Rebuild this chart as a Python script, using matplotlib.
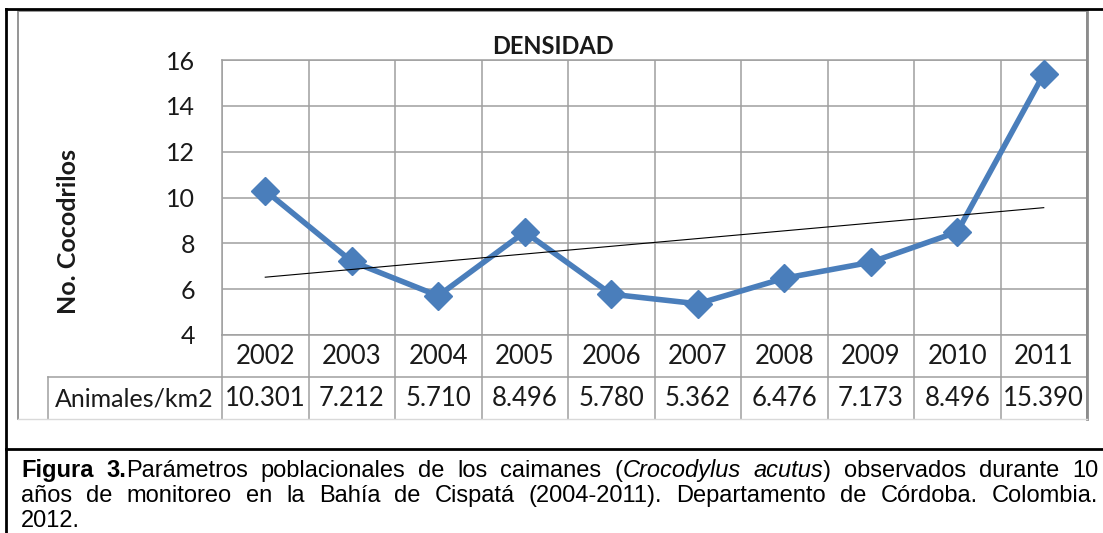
import numpy as np
import matplotlib.pyplot as plt
from matplotlib.lines import Line2D
from matplotlib.transforms import blended_transform_factory

W, H = 1103, 533

YEARS = ["2002", "2003", "2004", "2005", "2006", "2007", "2008", "2009", "2010", "2011"]
DENSITY = [10.301, 7.212, 5.710, 8.496, 5.780, 5.362, 6.476, 7.173, 8.496, 15.390]
Y_TICKS = [4, 6, 8, 10, 12, 14, 16]
ROW_LABEL = "Animales/km2"
TITLE = "DENSIDAD"
Y_LABEL = "No. Cocodrilos"
CAPTION = [
    [("Figura 3.", "bold"), ("Parámetros poblacionales de los caimanes (", "normal"),
     ("Crocodylus acutus", "italic"), (") observados durante 10", "normal")],
    [("años de monitoreo en la Bahía de Cispatá (2004-2011). Departamento de Córdoba. Colombia.", "normal")],
    [("2012.", "normal")],
]

BLUE = "#4A7EBB"
GRID = "#9f9f9f"
CHART_FONT = "Lato"
CAP_FONT = "Liberation Sans"
TXT = "#1a1a1a"


def fx(x):
    return x / W


def fy(y):
    return 1 - y / H


def fig_line(fig, xs, ys, **kw):
    fig.add_artist(Line2D([fx(x) for x in xs], [fy(y) for y in ys], transform=fig.transFigure, **kw))


def split_words(segments):
    words = [[]]
    for text, style in segments:
        parts = text.split(" ")
        for i, p in enumerate(parts):
            if i > 0:
                words.append([])
            if p:
                words[-1].append((p, style))
    return [w for w in words if w]


def draw_caption(fig, lines, left, right, baselines, size):
    renderer = fig.canvas.get_renderer()

    def style_kw(style):
        return dict(fontweight="bold" if style == "bold" else "normal",
                    fontstyle="italic" if style == "italic" else "normal")

    def measure(s, style):
        t = fig.text(0, 0, s, fontsize=size, family=CAP_FONT, **style_kw(style))
        w = t.get_window_extent(renderer).width
        t.remove()
        return w

    space = measure("a a", "normal") - measure("aa", "normal")
    for n, (segments, base) in enumerate(zip(lines, baselines)):
        words = split_words(segments)
        widths = [[measure(p, st) for p, st in w] for w in words]
        total = sum(sum(w) for w in widths)
        gaps = len(words) - 1
        if n < len(lines) - 1 and gaps > 0:
            gap = (right - left - total) / gaps
        else:
            gap = space
        x = left
        for w, ws in zip(words, widths):
            for (p, st), pw in zip(w, ws):
                fig.text(fx(x), fy(base), p, fontsize=size, family=CAP_FONT,
                         va="baseline", ha="left", **style_kw(st))
                x += pw
            x += gap


fig = plt.figure(figsize=(W / 100, H / 100), dpi=100)
ax = fig.add_axes([fx(222), fy(335), fx(1087) - fx(222), fy(60) - fy(335)])

x = np.arange(len(YEARS))
ax.plot(x, DENSITY, color=BLUE, lw=4.0, marker="D", ms=14, zorder=3)

# linear trend line
coef = np.polyfit(x, DENSITY, 1)
ax.plot(x, np.polyval(coef, x), color="black", lw=0.8, zorder=4)

ax.set_xlim(-0.5, len(YEARS) - 0.5)
ax.set_ylim(Y_TICKS[0], Y_TICKS[-1])
ax.set_yticks(Y_TICKS)
ax.set_xticks([])
ax.set_xticks(np.arange(-0.5, len(YEARS), 1), minor=True)
ax.tick_params(axis="y", length=0, pad=19.5, labelsize=18, labelcolor=TXT)
ax.tick_params(axis="x", which="both", length=0, labelbottom=False)
for lab in ax.get_yticklabels():
    lab.set_family(CHART_FONT)
ax.grid(True, axis="y", color=GRID, lw=1.1)
ax.grid(True, axis="x", which="minor", color=GRID, lw=1.1)
ax.set_axisbelow(True)
for s in ax.spines.values():
    s.set_color(GRID)
    s.set_linewidth(1.1)

# title and y label
fig.text(fx(553), fy(47), TITLE, ha="center", va="center", fontsize=17,
         fontweight="bold", family=CHART_FONT, color=TXT)
fig.text(fx(68), fy(231), Y_LABEL, ha="center", va="center", rotation=90,
         fontsize=18, fontweight="bold", family=CHART_FONT, color=TXT)

# data table below the plot
bt = blended_transform_factory(ax.transData, fig.transFigure)
for b in np.arange(-0.5, len(YEARS), 1):
    ax.add_artist(Line2D([b, b], [fy(335), fy(419)], transform=bt, color=GRID, lw=1.1, clip_on=False))
fig_line(fig, [48, 1087], [377, 377], color=GRID, lw=1.1)
fig_line(fig, [48, 48], [377, 419], color=GRID, lw=1.1)
for i, (yr, v) in enumerate(zip(YEARS, DENSITY)):
    fig.text(i, fy(357), yr, transform=bt, ha="center", va="center", fontsize=18.5,
             family=CHART_FONT, color=TXT)
    fig.text(i, fy(399), f"{v:.3f}", transform=bt, ha="center", va="center", fontsize=18.5,
             family=CHART_FONT, color=TXT)
fig.text(fx(134), fy(399), ROW_LABEL, ha="center", va="center", fontsize=18,
         family=CHART_FONT, color=TXT)

# chart frame (gray) and page borders (black)
fig_line(fig, [18, 18, 1087, 1087], [419, 11, 11, 419], color="#8c8c8c", lw=1.3)
fig_line(fig, [1087, 1087], [11, 419], color="#8c8c8c", lw=2.0)
fig_line(fig, [18, 1087], [419, 419], color="#d9d9d9", lw=1.0)
fig_line(fig, [6, 6], [533, 9], color="black", lw=2.0)
fig_line(fig, [6, 1103], [9, 9], color="black", lw=2.0)
fig_line(fig, [6, 1103], [449, 449], color="black", lw=2.0)

draw_caption(fig, CAPTION, 21, 1098, [477, 502, 527], 17)

fig.savefig("out.png", dpi=100)
